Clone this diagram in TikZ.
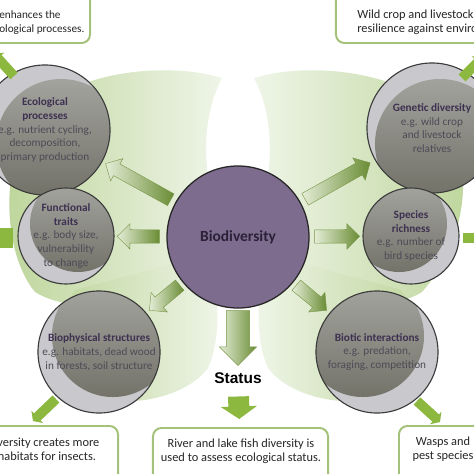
\documentclass[tikz,border=0pt]{standalone}
\usepackage{fontspec}
\setmainfont{Carlito}
\newfontfamily\statusfont{Liberation Sans}
\usetikzlibrary{arrows.meta,shapes.arrows}
\definecolor{wingdark}{HTML}{BDD59A}
\definecolor{winglight}{HTML}{EFF5E8}
\definecolor{discgray}{HTML}{C9C9CD}
\definecolor{discshadetop}{HTML}{A9A9A5}
\definecolor{discshadebot}{HTML}{6C6C62}
\definecolor{discline}{HTML}{3C3C3C}
\definecolor{titlecol}{HTML}{3D3050}
\definecolor{bodycol}{HTML}{4E4A56}
\definecolor{corefill}{HTML}{7E6C8F}
\definecolor{boxline}{HTML}{A5C27A}
\definecolor{flowlight}{HTML}{E3EDD6}
\definecolor{flowdark}{HTML}{6A8C34}
\definecolor{outgreen}{HTML}{8DB840}
\newcommand\topichead[1]{\textcolor{titlecol}{\bfseries #1}}
\tikzset{
  topicnode/.style n args={3}{circle,draw=discline,line width=0.8pt,fill=discgray,
    minimum size=#1,inner sep=0pt,align=center,text=bodycol,
    font=\fontsize{8}{9.8}\selectfont,
    path picture={\shade[top color=discshadetop,bottom color=discshadebot]
      ([shift={(#2,#3)}]path picture bounding box.center) circle[radius=0.5*#1];}},
  corenode/.style={circle,draw=black!85,line width=0.9pt,fill=corefill,
    minimum size=3.55cm,text={rgb,255:red,42;green,33;blue,56},
    font=\bfseries\fontsize{11}{13}\selectfont},
  notenode/.style={draw=boxline,line width=1.4pt,rounded corners=6pt,fill=white},
  notetext/.style={align=center,inner sep=0pt,text=black!85,
    font=\fontsize{8.8}{10}\selectfont},
  flowarrow/.style={single arrow,draw=flowdark!90,line width=0.3pt,
    left color=flowlight,right color=flowdark,inner xsep=0pt,inner ysep=4.6pt,
    single arrow head extend=4.3pt,sloped,allow upside down,anchor=tail},
  outarrow/.style={draw=outgreen,-{Triangle[length=0pt 0.6,width=0pt 1.7]}},
  wing/.style={draw=none}
}
\begin{document}
\begin{tikzpicture}[x=0.025cm,y=-0.025cm]
  \useasboundingbox (0,0) rectangle (474,474);
  % wings
  \shade[wing,left color=wingdark,right color=winglight]
    (208,175) .. controls (203,140) and (208,105) .. (222,78)
    .. controls (170,62) and (80,70) .. (40,110)
    .. controls (0,150) and (0,250) .. (35,292)
    .. controls (80,320) and (170,300) .. (215,270) -- cycle;
  \shade[wing,left color=winglight,right color=wingdark]
    (268,175) .. controls (273,140) and (268,105) .. (254,78)
    .. controls (306,62) and (396,70) .. (436,110)
    .. controls (476,150) and (472,235) .. (422,292)
    .. controls (380,318) and (306,300) .. (261,270) -- cycle;
  \shade[wing,left color=wingdark,right color=winglight]
    (205,255) .. controls (221,290) and (221,340) .. (208,368)
    .. controls (188,395) and (140,405) .. (112,400)
    .. controls (60,392) and (48,330) .. (75,290) -- cycle;
  \shade[wing,left color=winglight,right color=wingdark]
    (271,255) .. controls (255,290) and (255,340) .. (268,368)
    .. controls (288,395) and (336,405) .. (364,400)
    .. controls (416,392) and (428,330) .. (401,290) -- cycle;

  % note boxes
  \node[notenode,minimum width=3cm,minimum height=1.575cm] (ecobox) at (30,11.5) {};
  \node[notenode,minimum width=4.35cm,minimum height=1.575cm] (genbox) at (423,11.5) {};
  \node[notenode,minimum width=3.7cm,minimum height=1.85cm] (physbox) at (44,463) {};
  \node[notenode,minimum width=4.375cm,minimum height=1.8cm] (riverbox) at (240.5,464) {};
  \node[notenode,minimum width=2.775cm,minimum height=1.85cm] (bioticbox) at (454.5,463) {};
  \node[notetext,align=left,anchor=west,font=\fontsize{8}{10.4}\selectfont] (ecotext) at (-1,22.5)
    {enhances the\\ological processes.};
  \node[notetext,align=left,anchor=west] (gentext) at (357,22.5) {Wild crop and livestock r\\resilience against environ};
  \node[notetext] (phystext) at (47,449.5) {iversity creates more\\habitats for insects.};
  \node[notetext] (rivertext) at (241,451) {River and lake fish diversity is\\used to assess ecological status.};
  \node[notetext] (biotictext) at (443,449) {Wasps and\\pest species};

  % topic discs
  \node[topicnode={3.25cm}{16}{14}] (eco) at (45,130)
    {\topichead{Ecological}\\\topichead{processes}\\e.g. nutrient cycling,\\decomposition,\\primary production};
  \node[topicnode={3.25cm}{8}{16}] (gen) at (432,128)
    {\topichead{Genetic diversity}\\e.g. wild crop\\and livestock\\relatives};
  \node[topicnode={2.4cm}{12}{-12}] (func) at (66,236)
    {\topichead{Functional}\\\topichead{traits}\\e.g. body size,\\vulnerability\\to change};
  \node[topicnode={2.4cm}{-12}{-12}] (spec) at (411,236)
    {\topichead{Species}\\\topichead{richness}\\e.g. number of\\bird species};
  \node[topicnode={3.05cm}{14}{-16}] (phys) at (99,352)
    {\topichead{Biophysical structures}\\e.g. habitats, dead wood\\in forests, soil structure};
  \node[topicnode={3.05cm}{-14}{-16}] (biotic) at (377,352)
    {\topichead{Biotic interactions}\\e.g. predation,\\foraging, competition};

  % centre and status
  \node[corenode] (bio) at (238,237) {Biodiversity};
  \node[font={\statusfont\bfseries\fontsize{11}{13}\selectfont}] (status) at (238,378) {Status};

  % flow arrows
  \path (bio) -- (eco) node[flowarrow,pos=0.06,minimum height=53pt] {};
  \path (bio) -- (gen) node[flowarrow,pos=0.06,minimum height=53pt] {};
  \path (bio) -- (func) node[flowarrow,pos=0.13,minimum height=30pt] {};
  \path (bio) -- (spec) node[flowarrow,pos=0.09,minimum height=32pt] {};
  \path (bio) -- (phys) node[flowarrow,pos=0.08,minimum height=28pt] {};
  \path (bio) -- (biotic) node[flowarrow,pos=0.08,minimum height=28pt] {};
  \path (bio) -- (status) node[flowarrow,pos=0.03,minimum height=39pt,
    inner ysep=8.1pt,single arrow head extend=5pt] {};

  % arrows to the notes
  \coordinate (ecotail) at (14,76);
  \coordinate (ecotip) at (-6,54);
  \coordinate (gentail) at (462,78);
  \coordinate (gentip) at (482,58);
  \coordinate (functail) at (13,238);
  \coordinate (functip) at (-22,238);
  \coordinate (spectail) at (463,238);
  \coordinate (spectip) at (498,238);
  \coordinate (physttail) at (56,399);
  \coordinate (phystip) at (33,421);
  \coordinate (biotictail) at (417,401);
  \coordinate (biotictip) at (440,422);
  \draw[outarrow,line width=7pt] (ecotail) -- (ecotip);
  \draw[outarrow,line width=7pt] (gentail) -- (gentip);
  \draw[outarrow,line width=14.9pt] (functail) -- (functip);
  \draw[outarrow,line width=7pt] (spectail) -- (spectip);
  \draw[outarrow,line width=7pt] (physttail) -- (phystip);
  \draw[outarrow,line width=7pt] (biotictail) -- (biotictip);
  \draw[outarrow,line width=14.9pt,shorten <=5.7pt,shorten >=5.7pt] (status) -- (riverbox);
\end{tikzpicture}
\end{document}
